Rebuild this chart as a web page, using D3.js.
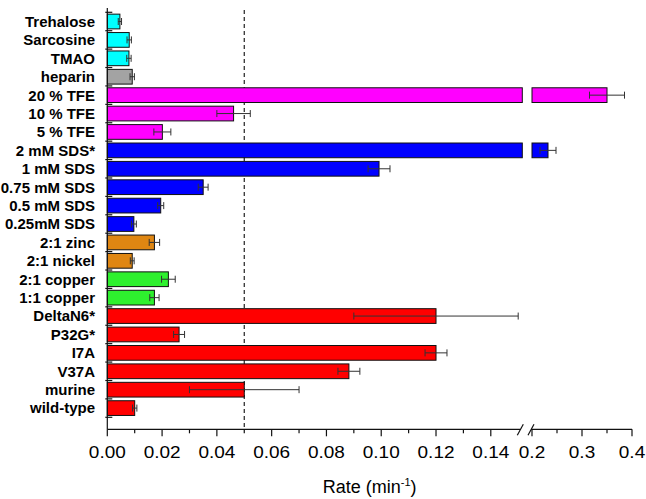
<!DOCTYPE html>
<html>
<head>
<meta charset="utf-8">
<script src="https://cdn.jsdelivr.net/npm/d3@7"></script>
<style>
  html, body { margin: 0; padding: 0; background: #fff; }
  svg { display: block; }
  .cat { font-family: "Liberation Sans", Arial, sans-serif; font-weight: bold; font-size: 15px; }
  .tick-label { font-family: "Liberation Sans", Arial, sans-serif; font-size: 16.5px; }
  .title { font-family: "Liberation Sans", Arial, sans-serif; font-size: 18px; }
</style>
</head>
<body>
<svg id="chart" width="646" height="499"></svg>
<script>
// ---- data ----
const categories = ["Trehalose", "Sarcosine", "TMAO", "heparin", "20 % TFE", "10 % TFE", "5 % TFE",
  "2 mM SDS*", "1 mM SDS", "0.75 mM SDS", "0.5 mM SDS", "0.25mM SDS", "2:1 zinc", "2:1 nickel",
  "2:1 copper", "1:1 copper", "DeltaN6*", "P32G*", "I7A", "V37A", "murine", "wild-type"];
const rates = [0.0046, 0.0080, 0.0079, 0.0091, 0.350, 0.0461, 0.0201,
  0.232, 0.0992, 0.0350, 0.0195, 0.0097, 0.0172, 0.0091,
  0.0223, 0.0172, 0.120, 0.0262, 0.120, 0.0882, 0.050, 0.0100];
const errors = [0.0006, 0.0008, 0.0008, 0.0008, 0.035, 0.0061, 0.0031,
  0.016, 0.0040, 0.0018, 0.0011, 0.0009, 0.0019, 0.0007,
  0.0025, 0.0017, 0.030, 0.0020, 0.0040, 0.0040, 0.020, 0.0008];
const groups = ["osmolyte", "osmolyte", "osmolyte", "heparin", "TFE", "TFE", "TFE",
  "SDS", "SDS", "SDS", "SDS", "SDS", "metal", "metal",
  "copper", "copper", "mutant", "mutant", "mutant", "mutant", "mutant", "mutant"];
const groupNames = ["osmolyte", "heparin", "TFE", "SDS", "metal", "copper", "mutant"];
const groupColors = ["#00FFFF", "#A3A3A3", "#FF00FF", "#0000FF", "#DF8612", "#2EF02E", "#FF0000"];
const leftTicks = [0.00, 0.02, 0.04, 0.06, 0.08, 0.10, 0.12, 0.14];
const leftMinor = [0.01, 0.03, 0.05, 0.07, 0.09, 0.11, 0.13];
const rightTicks = [0.2, 0.3, 0.4];
const rightMinor = [0.25, 0.35];
const refLine = 0.05;
const leftMax = 0.1515;

// ---- layout ----
const svg = d3.select("#chart");
const x0 = 107.3, xBreakL = 522.3, xBreakR = 532, xEnd = 632;
const yTop = 12.3, yBot = 417.3, axisY = 429.3, axisTop = 8;

const xL = d3.scaleLinear().domain([0, leftMax]).range([x0, xBreakL]);
const xR = d3.scaleLinear().domain([0.2, 0.4]).range([xBreakR, xEnd]);
const y = d3.scaleBand().domain(categories).range([yTop, yBot]).paddingInner(0.2).paddingOuter(0.1);
const color = d3.scaleOrdinal().domain(groupNames).range(groupColors);

const data = categories.map((c, i) => ({ c, v: rates[i], e: errors[i], g: groups[i] }));

// reference dashed line
svg.append("line")
  .attr("x1", xL(refLine)).attr("x2", xL(refLine))
  .attr("y1", axisTop + 2).attr("y2", axisY)
  .attr("stroke", "#222").attr("stroke-width", 1.2)
  .attr("stroke-dasharray", "4,3");

// bars
const bars = svg.append("g");
data.forEach(d => {
  const yb = y(d.c), h = y.bandwidth();
  if (d.v <= leftMax) {
    bars.append("rect")
      .attr("x", xL(0)).attr("y", yb)
      .attr("width", xL(d.v) - xL(0)).attr("height", h)
      .attr("fill", color(d.g)).attr("stroke", "#111").attr("stroke-width", 1);
  } else {
    bars.append("rect")
      .attr("x", xL(0)).attr("y", yb)
      .attr("width", xL(leftMax) - xL(0)).attr("height", h)
      .attr("fill", color(d.g)).attr("stroke", "#111").attr("stroke-width", 1);
    bars.append("rect")
      .attr("x", xR(0.2)).attr("y", yb)
      .attr("width", xR(d.v) - xR(0.2)).attr("height", h)
      .attr("fill", color(d.g)).attr("stroke", "#111").attr("stroke-width", 1);
  }
});

// error bars
const eb = svg.append("g").attr("stroke", "#333").attr("stroke-width", 1);
data.forEach(d => {
  const sc = d.v <= leftMax ? xL : xR;
  const cy = y(d.c) + y.bandwidth() / 2;
  const a = sc(d.v - d.e), b = sc(d.v + d.e);
  eb.append("line").attr("x1", a).attr("x2", b).attr("y1", cy).attr("y2", cy);
  eb.append("line").attr("x1", a).attr("x2", a).attr("y1", cy - 3.5).attr("y2", cy + 3.5);
  eb.append("line").attr("x1", b).attr("x2", b).attr("y1", cy - 3.5).attr("y2", cy + 3.5);
});

// y axis
const ya = svg.append("g").attr("stroke", "#111").attr("stroke-width", 1.2);
ya.append("line").attr("x1", x0).attr("x2", x0).attr("y1", axisTop).attr("y2", axisY);
const step = y.step();
d3.range(categories.length + 1).forEach(i => {
  const ty = y(categories[0]) - step * y.paddingInner() / 2 + i * step;
  ya.append("line").attr("x1", x0 - 2).attr("x2", x0 + 5).attr("y1", ty).attr("y2", ty);
});

// category labels
svg.append("g").selectAll("text").data(data).join("text")
  .attr("class", "cat")
  .attr("x", 95).attr("y", d => y(d.c) + y.bandwidth() / 2)
  .attr("dy", "0.36em").attr("text-anchor", "end")
  .text(d => d.c);

// x axis (broken)
const xa = svg.append("g").attr("stroke", "#111").attr("stroke-width", 1.2);
xa.append("line").attr("x1", x0).attr("x2", xL(leftMax) - 2).attr("y1", axisY).attr("y2", axisY);
xa.append("line").attr("x1", xR(0.2) - 1).attr("x2", xEnd).attr("y1", axisY).attr("y2", axisY);
// break marks
[xL(leftMax) - 2, xR(0.2) - 1].forEach(bx => {
  xa.append("line").attr("x1", bx - 3).attr("x2", bx + 3).attr("y1", axisY + 6).attr("y2", axisY - 5);
});
leftTicks.forEach(t => xa.append("line").attr("x1", xL(t)).attr("x2", xL(t)).attr("y1", axisY).attr("y2", axisY + 7));
leftMinor.forEach(t => xa.append("line").attr("x1", xL(t)).attr("x2", xL(t)).attr("y1", axisY).attr("y2", axisY + 4));
rightTicks.forEach(t => xa.append("line").attr("x1", xR(t)).attr("x2", xR(t)).attr("y1", axisY).attr("y2", axisY + 7));
rightMinor.forEach(t => xa.append("line").attr("x1", xR(t)).attr("x2", xR(t)).attr("y1", axisY).attr("y2", axisY + 4));

const tl = svg.append("g");
const fmtL = d3.format(".2f"), fmtR = d3.format(".1f");
leftTicks.forEach(t => tl.append("text").attr("class", "tick-label")
  .attr("text-anchor", "middle")
  .attr("transform", `translate(${xL(t)},457.5) scale(1.15,1)`)
  .text(fmtL(t)));
rightTicks.forEach(t => tl.append("text").attr("class", "tick-label")
  .attr("text-anchor", "middle")
  .attr("transform", `translate(${xR(t)},457.5) scale(1.15,1)`)
  .text(fmtR(t)));

// axis title
const title = svg.append("text").attr("class", "title")
  .attr("x", (x0 + xEnd) / 2).attr("y", 493.3).attr("text-anchor", "middle");
title.append("tspan").text("Rate (min");
title.append("tspan").attr("font-size", "11px").attr("dy", "-7").text("-1");
title.append("tspan").attr("dy", "7").text(")");
</script>
</body>
</html>
